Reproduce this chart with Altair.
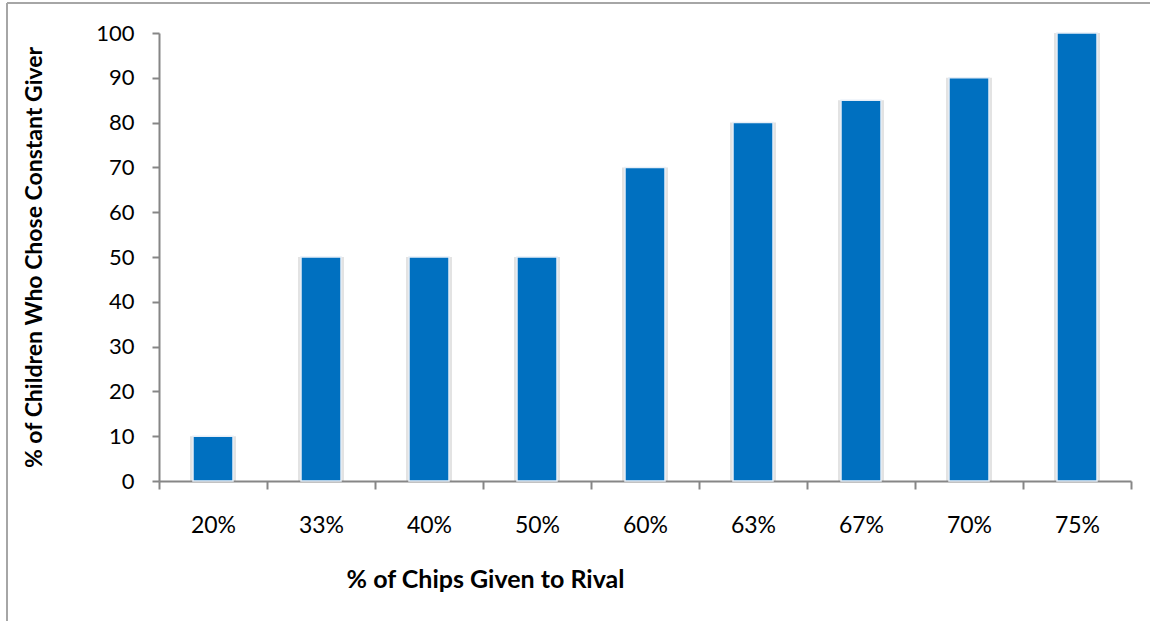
import altair as alt
import pandas as pd

# Share of chips the alternative giver handed to the rival, and the
# percentage of children who then picked the constant giver.
chip_shares = ["20%", "33%", "40%", "50%", "60%", "63%", "67%", "70%", "75%"]
chose_constant = [10, 50, 50, 50, 70, 80, 85, 90, 100]

df = pd.DataFrame({"share": chip_shares, "pct": chose_constant})

W, H = 972, 448
BLUE = "#0070C0"
GREY = "#868686"

x_enc = alt.X(
    "share:N",
    sort=chip_shares,
    scale=alt.Scale(paddingInner=0.0, paddingOuter=0.0),
    axis=alt.Axis(
        title="% of Chips Given to Rival",
        titleFont="Lato",
        titleFontSize=25,
        titleFontWeight="bold",
        titleColor="#000000",
        titleX=326,
        titleY=86,
        titleAnchor="middle",
        labelFont="Lato",
        labelFontSize=23,
        labelColor="#000000",
        labelAngle=0,
        labelPadding=25,
        tickBand="extent",
        tickSize=8,
        tickWidth=2,
        tickColor=GREY,
        domainColor=GREY,
        domainWidth=2,
        grid=False,
    ),
)

y_enc = alt.Y(
    "pct:Q",
    scale=alt.Scale(domain=[0, 100], nice=False),
    axis=alt.Axis(
        title="% of Children Who Chose Constant Giver",
        titleFont="Lato",
        titleFontSize=23,
        titleFontWeight="bold",
        titleColor="#000000",
        titleX=-125,
        titleY=224,
        titleBaseline="middle",
        titleAnchor="middle",
        values=list(range(0, 101, 10)),
        labelFont="Lato",
        labelFontSize=22,
        labelColor="#000000",
        labelPadding=18,
        tickSize=7,
        tickWidth=2,
        tickColor=GREY,
        domainColor=GREY,
        domainWidth=2,
        grid=False,
    ),
)

# soft drop shadow behind each bar
shadow = alt.Chart(df).mark_bar(size=46, color="#7f7f7f", opacity=0.22).encode(
    x=x_enc, y=y_enc
)

bars = alt.Chart(df).mark_bar(
    size=40, color=BLUE, stroke="#e6eef7", strokeWidth=1.5
).encode(x=x_enc, y=y_enc)

# outer frame of the chart area (top and left edges)
frame_top = alt.Chart(df).mark_rule(color="#a6a6a6", strokeWidth=2).encode(
    x=alt.value(-152), x2=alt.value(W + 30), y=alt.value(-30)
)
frame_left = alt.Chart(df).mark_rule(color="#a6a6a6", strokeWidth=2).encode(
    x=alt.value(-152), y=alt.value(-30), y2=alt.value(H + 160)
)

chart = (
    alt.layer(frame_top, frame_left, shadow, bars)
    .properties(
        width=W,
        height=H,
        padding={"left": 159, "top": 33, "right": 19, "bottom": 140},
        autosize=alt.AutoSizeParams(type="none"),
        background="#ffffff",
    )
    .configure_view(stroke=None)
)

chart.save("out.html", embed_options={"renderer": "svg", "actions": False})
